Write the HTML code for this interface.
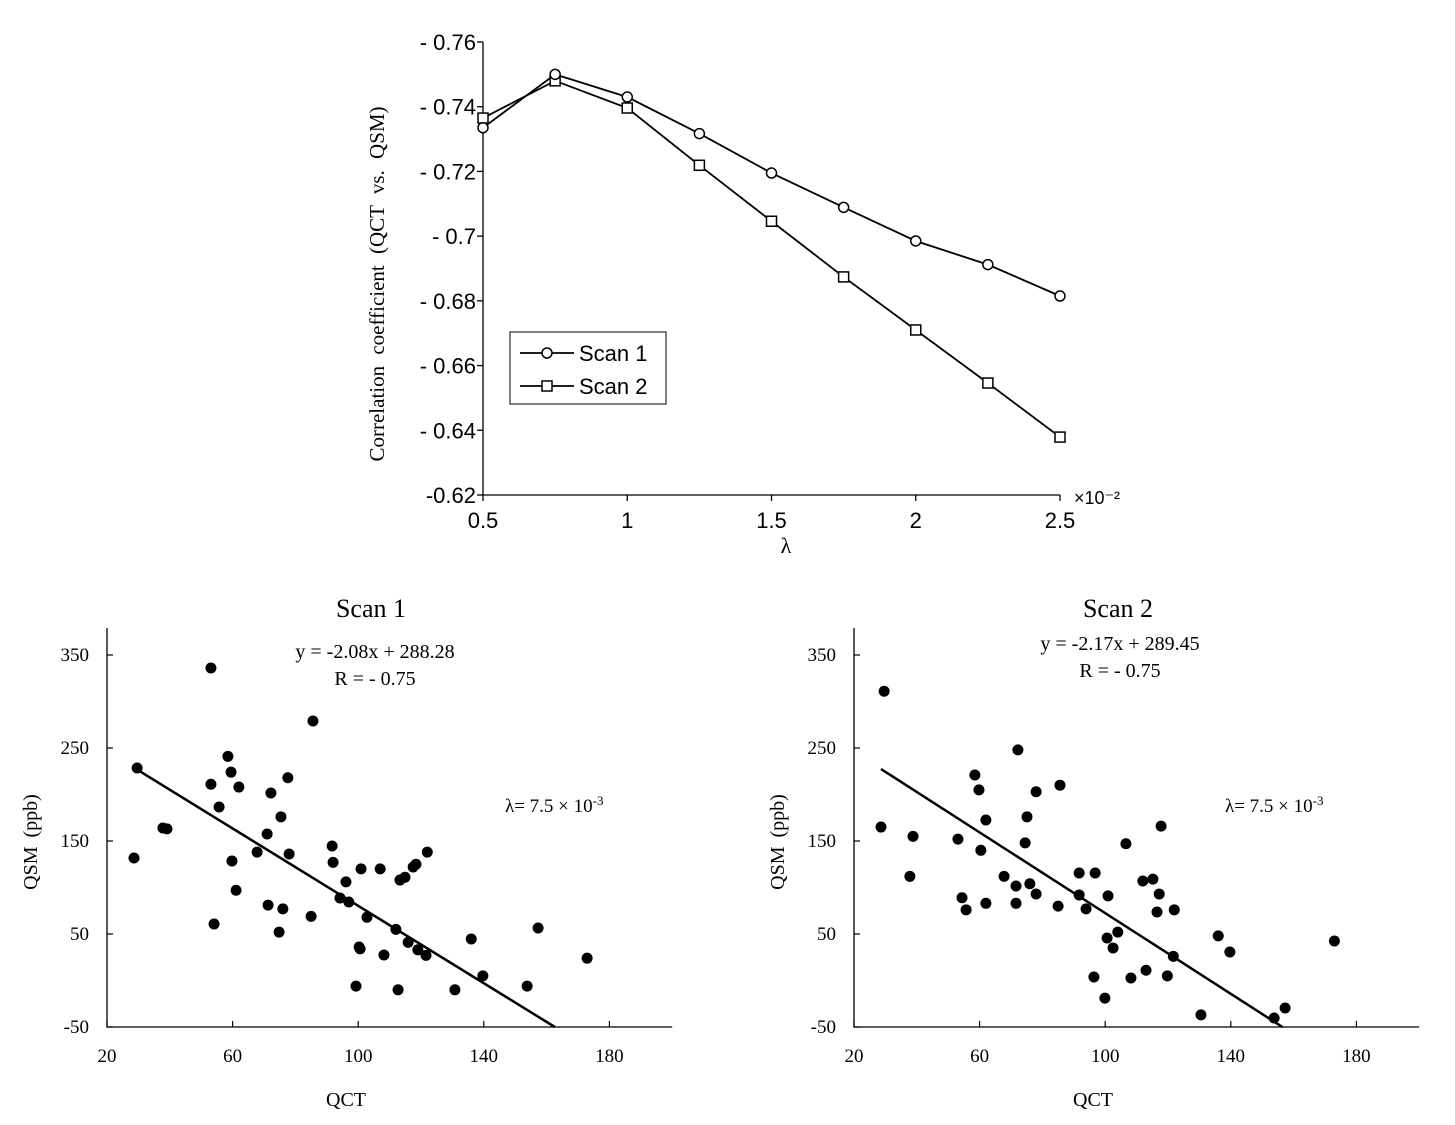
<!DOCTYPE html>
<html><head><meta charset="utf-8"><style>
html,body{margin:0;padding:0;background:#fff;}
svg{display:block;}
.sans{font-family:"Liberation Sans",sans-serif;}
.serif{font-family:"Liberation Serif",serif;}
</style></head><body>
<svg id="fig" width="1455" height="1125" viewBox="0 0 1455 1125" xmlns="http://www.w3.org/2000/svg">
<g id="topchart"></g>
<g id="left"></g>
<g id="right"></g>
</svg>
<script>
// ---- Top chart data ----
const lambdaVals = [0.5,0.75,1,1.25,1.5,1.75,2,2.25,2.5];
const scan1Corr = [0.7335,0.750,0.743,0.7317,0.7195,0.7089,0.6985,0.6912,0.6815];
const scan2Corr = [0.7365,0.748,0.7396,0.7219,0.7046,0.6874,0.671,0.6546,0.6379];
const topYTicks = [0.76,0.74,0.72,0.70,0.68,0.66,0.64,0.62];
const topYTickLabels = ["- 0.76","- 0.74","- 0.72","- 0.7","- 0.68","- 0.66","- 0.64","-0.62"];
const topXTicks = [0.5,1,1.5,2,2.5];
const topXTickLabels = ["0.5","1","1.5","2","2.5"];
// ---- Scatter data ----
const scan1X = [29.6,28.6,53.1,37.8,39.1,53.1,58.5,59.5,62,55.7,59.8,61.1,54.1,67.8,72.2,71,71.3,74.8,76,75.4,77.6,78,85.6,85,91.7,92,96.1,97,94.2,100.9,102.8,107,100.3,100.6,108.2,99.3,112,113.3,114.9,117.5,118.4,122,115.9,119,121.6,112.7,130.8,136,139.7,153.8,157.3,172.9];
const scan1Y = [228.5,131.7,336,164,163,211,241,224,208,186.6,128.5,97,60.8,138,201.6,157.5,81,52,77,176,218,136,279,69,144.6,127,106,84.4,88.7,120,68,120,36,34,27.4,-6,55,108,111,122,125,138,41,33,27,-10,-10,44.6,5,-6,56.5,24];
const scan2X = [29.6,28.6,37.8,38.8,58.5,59.8,62,60.4,62,53.1,54.4,55.7,72.2,67.8,71.6,71.6,75.1,74.5,76,78,78,85.6,85,91.7,91.7,93.9,96.8,100.9,100.6,102.5,96.4,99.9,106.6,108.2,112,115.2,113,117.8,117.2,116.5,122,119.8,121.7,130.5,136,139.7,153.8,157.3,173,104];
const scan2Y = [311,165,112,155,221,205,172.6,140,83,152,89,76,248,112,101.6,83,176,148,104,203,93,210,80,115.6,92,77,115.6,91,45.7,35,3.8,-19,147,2.7,107,109,11,166,93,73.7,76,5,26,-37,48,30.6,-40.3,-29.6,42.5,52];
const scan1Fit = [-2.08, 288.28];
const scan2Fit = [-2.17, 289.45];
const scatXTicks = [20,60,100,140,180];
const scatYTicks = [350,250,150,50,-50];

const NS="http://www.w3.org/2000/svg";
function mk(parent,tag,attrs,text){const e=document.createElementNS(NS,tag);for(const k in attrs)e.setAttribute(k,attrs[k]);if(text!==undefined)e.textContent=text;parent.appendChild(e);return e;}

// ---- Top chart ----
const topG=document.getElementById('topchart');
const tx=v=>483+(v-0.5)/2*(1060-483);
const ty=v=>42+(0.76-v)/0.14*(495-42);
let ax=mk(topG,'path',{d:`M483 42 L483 495 L1060 495`,fill:'none',stroke:'#000','stroke-width':1.3});


topYTicks.forEach((v,i)=>{
  const y=ty(v);
  const t=mk(topG,'line',{x1:477,x2:483,y1:y,y2:y,stroke:'#000','stroke-width':1.3});
  
  
  const l=mk(topG,'text',{x:476,y:y+8,'text-anchor':'end','font-size':22,class:'sans'},topYTickLabels[i]);
  
  
});
topXTicks.forEach((v,i)=>{
  const x=tx(v);
  const t=mk(topG,'line',{x1:x,x2:x,y1:495,y2:501,stroke:'#000','stroke-width':1.3});
  
  
  const l=mk(topG,'text',{x:x,y:528,'text-anchor':'middle','font-size':22,class:'sans'},topXTickLabels[i]);
  
  
});
let e=mk(topG,'text',{x:1074,y:504,'font-size':18,class:'sans'},'×10⁻²');


e=mk(topG,'text',{x:786,y:553,'text-anchor':'middle','font-size':22,class:'serif'},'λ');


e=mk(topG,'text',{x:0,y:0,'text-anchor':'middle','font-size':21,'word-spacing':6,class:'serif',transform:'translate(384,284) rotate(-90)'},'Correlation  coefficient  (QCT vs. QSM)');


function series(vals,name,shape){
  const pts=lambdaVals.map((l,i)=>[tx(l),ty(vals[i])]);
  const p=mk(topG,'polyline',{points:pts.map(p=>p.join(',')).join(' '),fill:'none',stroke:'#000','stroke-width':1.8});
  
  
  pts.forEach(([x,y])=>{
    let m;
    if(shape==='o') m=mk(topG,'circle',{cx:x,cy:y,r:5,fill:'#fff',stroke:'#000','stroke-width':1.5});
    else m=mk(topG,'rect',{x:x-5,y:y-5,width:10,height:10,fill:'#fff',stroke:'#000','stroke-width':1.5});
    
    
  });
}
series(scan2Corr,'scan2','s');
series(scan1Corr,'scan1','o');
// legend
const lg=mk(topG,'g',{});


mk(lg,'rect',{x:510,y:332,width:156,height:72,fill:'#fff',stroke:'#000','stroke-width':1});
mk(lg,'line',{x1:520,x2:574,y1:353,y2:353,stroke:'#000','stroke-width':1.8});
mk(lg,'circle',{cx:547,cy:353,r:5,fill:'#fff',stroke:'#000','stroke-width':1.5});
e=mk(lg,'text',{x:579,y:361,'font-size':22,class:'sans'},'Scan 1');


mk(lg,'line',{x1:520,x2:574,y1:386,y2:386,stroke:'#000','stroke-width':1.8});
mk(lg,'rect',{x:542,y:381,width:10,height:10,fill:'#fff',stroke:'#000','stroke-width':1.5});
e=mk(lg,'text',{x:579,y:394,'font-size':22,class:'sans'},'Scan 2');



// ---- Scatter charts ----
function scatter(gid,x0,xs,ys,fit,title,eq,r,eqx,eqy,lamx){
  const g=document.getElementById(gid);
  const sx=v=>x0+(v-20)*3.14;
  const sy=v=>1027-(v+50)*0.93;
  let a=mk(g,'path',{d:`M${x0} 628 L${x0} 1027 L${sx(200)} 1027`,fill:'none',stroke:'#000','stroke-width':1.3});
  
  
  scatYTicks.forEach(v=>{
    const y=sy(v);
    mk(g,'line',{x1:x0,x2:x0+6,y1:y,y2:y,stroke:'#000','stroke-width':1.2});
    const l=mk(g,'text',{x:x0-18,y:y+6,'text-anchor':'end','font-size':19,class:'serif'},String(v));
    
    
  });
  scatXTicks.forEach(v=>{
    const x=sx(v);
    mk(g,'line',{x1:x,x2:x,y1:1027,y2:1021,stroke:'#000','stroke-width':1.2});
    const l=mk(g,'text',{x:x,y:1062,'text-anchor':'middle','font-size':19,class:'serif'},String(v));
    
    
  });
  let t=mk(g,'text',{x:x0+264,y:617,'text-anchor':'middle','font-size':26,class:'serif'},title);
  
  
  t=mk(g,'text',{x:x0+239,y:1106,'text-anchor':'middle','font-size':20,class:'serif'},'QCT');
  
  
  t=mk(g,'text',{x:0,y:0,'text-anchor':'middle','font-size':20,'word-spacing':4,class:'serif',transform:`translate(${x0-70},842) rotate(-90)`},'QSM  (ppb)');
  
  
  t=mk(g,'text',{x:eqx,y:eqy,'text-anchor':'middle','font-size':20,class:'serif'},eq);
  
  
  t=mk(g,'text',{x:eqx,y:eqy+27,'text-anchor':'middle','font-size':20,class:'serif'},r);
  
  
  t=mk(g,'text',{x:lamx,y:812,'font-size':19,class:'serif'});
  t.innerHTML='λ= 7.5 × 10<tspan dy="-7" font-size="13">-3</tspan>';
  
  
  const xa=Math.min(...xs), xb=(-50-fit[1])/fit[0];
  const ln=mk(g,'line',{x1:sx(xa),y1:sy(fit[0]*xa+fit[1]),x2:sx(xb),y2:sy(fit[0]*xb+fit[1]),stroke:'#000','stroke-width':2.5});
  
  
  xs.forEach((v,i)=>{
    const c=mk(g,'circle',{cx:sx(v),cy:sy(ys[i]),r:5.5,fill:'#000'});
    
    
  });
}
scatter('left',107,scan1X,scan1Y,scan1Fit,'Scan 1','y = -2.08x + 288.28','R = - 0.75',375,658,505);
scatter('right',854,scan2X,scan2Y,scan2Fit,'Scan 2','y = -2.17x + 289.45','R = - 0.75',1120,650,1225);
</script>
</body></html>
